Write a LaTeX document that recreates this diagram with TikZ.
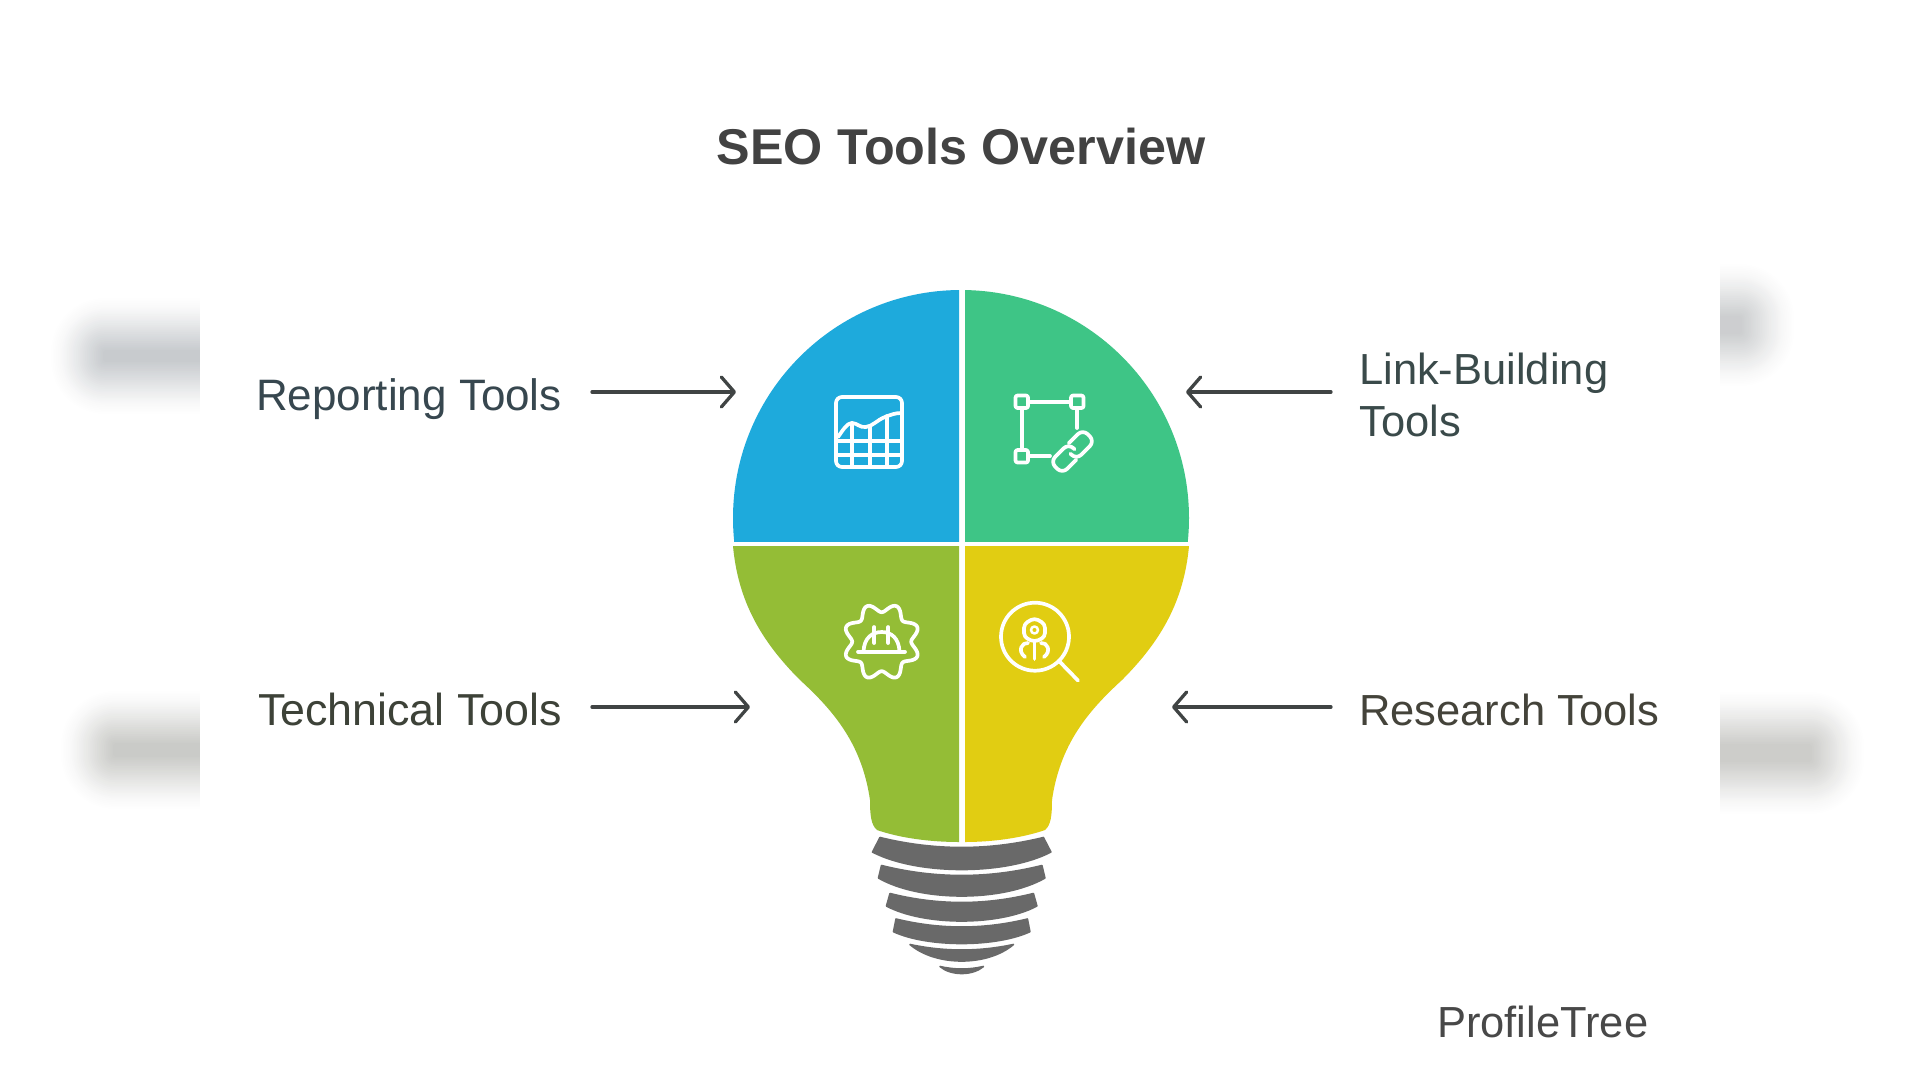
\documentclass[tikz,border=0pt]{standalone}
\usepackage{fontspec}
\setmainfont{Liberation Sans}
\usetikzlibrary{arrows.meta}
\definecolor{cblue}{HTML}{1EAADC}
\definecolor{cgreen}{HTML}{3EC586}
\definecolor{colive}{HTML}{94BD36}
\definecolor{cyellow}{HTML}{E1CD12}
\definecolor{cgray}{HTML}{696969}
\definecolor{carrow}{HTML}{404444}
\definecolor{trep}{HTML}{37474F}
\definecolor{tlink}{HTML}{3A4A4A}
\definecolor{ttech}{HTML}{3D4238}
\definecolor{tres}{HTML}{44433A}
\definecolor{ttitle}{HTML}{424242}
\definecolor{tbrand}{HTML}{484848}
\definecolor{bluea}{HTML}{C4C9CE}
\definecolor{blurb}{HTML}{C8C9C4}
\definecolor{bluric}{HTML}{CBCED0}
\definecolor{blurd}{HTML}{CCCCC8}
\tikzset{
  x=1pt,y=-1pt,
  lbl/.style={inner ysep=0pt,font=\fontsize{43.5}{52}\selectfont},
  arrowline/.style={draw=carrow,line width=3.3pt,line cap=round,-{Straight Barb[length=13pt,width=30pt,round]}},
  icon/.style={draw=white,line width=3.7pt,line cap=round,line join=round},
  ringshape/.style={fill=cgray,draw=cgray,line width=1.6pt,line join=round},
}
\newcommand{\blurpatch}[5]{%
  \foreach \i in {1,...,30}{%
    \pgfmathsetmacro{\off}{54*\i/30}
    \pgfmathsetmacro{\opa}{0.075*(1-\i/31)+0.003}
    \fill[#5,opacity=\opa,rounded corners=\off pt] (#1-\off,#2-\off) rectangle (#3+\off,#4+\off);
  }%
}
\begin{document}
\begin{tikzpicture}
\useasboundingbox (0,0) rectangle (1920,1080);
\fill[white] (0,0) rectangle (1920,1080);
% blurred remains at the sides
\blurpatch{105}{352}{240}{360}{bluea}
\blurpatch{115}{745}{240}{755}{blurb}
\blurpatch{1680}{318}{1740}{332}{bluric}
\blurpatch{1680}{746}{1810}{760}{blurd}
\fill[white] (200,0) rectangle (1720,1080);
% bulb
\begin{scope}
  \clip (700,280) rectangle (959,541);
  \fill[cblue] (961,518) circle[radius=228];
\end{scope}
\begin{scope}
  \clip (965,280) rectangle (1220,541);
  \fill[cgreen] (961,518) circle[radius=228];
\end{scope}
\fill[colive] (733,546) .. controls (738,600) and (760,640) .. (800,680)
  .. controls (835,712) and (862,745) .. (870,800)
  .. controls (870,815) and (871,825) .. (877,830)
  .. controls (900,838) and (930,842) .. (959,842) -- (959,546) -- cycle;
\fill[cyellow] (1189,546) .. controls (1184,600) and (1162,640) .. (1122,680)
  .. controls (1087,712) and (1060,745) .. (1052,800)
  .. controls (1052,815) and (1051,825) .. (1045,830)
  .. controls (1022,838) and (992,842) .. (965,842) -- (965,546) -- cycle;
% base rings: top-left x,y / top centre y / side x,y / bottom centre y
\foreach \tx/\ty/\tc/\sx/\sy/\bc in {
  880/837.5/847.5/872.5/852/869.5,
  881.5/865.5/875.5/878.5/878/896,
  890/893.5/902.5/886.5/906/921,
  896/919/927/893.5/931.7/943.5,
  910/944.5/950/910/944.5/961,
  940/966.5/969/940/966.5/973.5}{
  \pgfmathsetmacro{\rtx}{1923.4-\tx}
  \pgfmathsetmacro{\rsx}{1923.4-\sx}
  \pgfmathsetmacro{\tcy}{\ty+(\tc-\ty)*4/3}
  \pgfmathsetmacro{\bcy}{\sy+(\bc-\sy)*4/3}
  \pgfmathsetmacro{\tca}{\tx+(961.7-\tx)*2/3}
  \pgfmathsetmacro{\tcb}{\rtx-(\rtx-961.7)*2/3}
  \pgfmathsetmacro{\bca}{\rsx-(\rsx-961.7)*0.5}
  \pgfmathsetmacro{\bcb}{\sx+(961.7-\sx)*0.5}
  \path[ringshape] (\tx,\ty) .. controls (\tca,\tcy) and (\tcb,\tcy) .. (\rtx,\ty)
    -- (\rsx,\sy) .. controls (\bca,\bcy) and (\bcb,\bcy) .. (\sx,\sy) -- cycle;
}
% chart icon
\draw[icon,rounded corners=6pt] (836,397) rectangle (902,467);
\draw[icon] (838,437) .. controls (843,430) and (847,423) .. (852,423)
  .. controls (857,423) and (860,428) .. (866,427)
  .. controls (873,426) and (877,420) .. (885,417) .. controls (890,415) and (895,413) .. (901,413);
\draw[icon] (852,423) -- (852,467) (870,426) -- (870,467) (887,416) -- (887,467)
  (837,441) -- (901,441) (837,455) -- (901,455);
% link icon
\draw[icon,rounded corners=2pt] (1015.5,395.5) rectangle (1028,408) (1071,395.5) rectangle (1083.5,408) (1015.5,450) rectangle (1028,462.5);
\draw[icon] (1028,401.7) -- (1071,401.7) (1021.7,408) -- (1021.7,450) (1077,408) -- (1077,428) (1028,456) -- (1050,456);
\begin{scope}[shift={(1072.5,451.5)},rotate=45]
  \draw[icon,rounded corners=7pt] (-3,8.5) -- (-23,8.5) -- (-23,-8.5) -- (3,-8.5) -- (3,0);
  \draw[icon,rounded corners=7pt] (3,-8.5) -- (23,-8.5) -- (23,8.5) -- (-3,8.5) -- (-3,0);
\end{scope}
% gear icon
\draw[icon,shift={(881.7,641.7)}] plot[samples=145,domain=0:357.5,variable=\t] ({(34+4.5*cos(8*\t-180))*cos(\t)},{(34+4.5*cos(8*\t-180))*sin(\t)}) -- cycle;
\draw[icon] (858,651.7) -- (905,651.7);
\draw[icon] (863.5,651.7) .. controls (864,638) and (872,632) .. (881.7,632) .. controls (891,632) and (899,638) .. (899.5,651.7);
\draw[icon] (874.3,627) -- (874.3,643) (888.3,627) -- (888.3,643);
% research icon
\draw[icon] (1035,636.7) circle[radius=34];
\draw[icon] (1059,661) -- (1078,680.5);
\draw[icon,rounded corners=4pt] (1034.5,618) -- (1045,624) -- (1045,637) -- (1034.5,642) -- (1024,637) -- (1024,624) -- cycle;
\draw[icon,line width=2.5pt] (1034.5,630) circle[radius=3.5];
\draw[icon] (1034.5,642) -- (1034.5,659);
\draw[icon] (1028,643) .. controls (1022,642) and (1017,651) .. (1025,657);
\draw[icon] (1041,643) .. controls (1047,642) and (1052,651) .. (1044,657);
% texts
\node[lbl,font=\bfseries\fontsize{50.3}{56}\selectfont,text=ttitle,anchor=base,inner sep=0pt] (title) at (961,164) {SEO Tools Overview};
\node[lbl,font=\fontsize{44}{52}\selectfont,text=trep,anchor=base east,inner xsep=30pt] (rep) at (592,410) {Reporting Tools};
\node[lbl,font=\fontsize{44.8}{52}\selectfont,text=ttech,anchor=base east,inner xsep=30pt] (tech) at (592,725) {Technical Tools};
\node[lbl,text=tres,anchor=base west,inner xsep=28pt] (res) at (1331,725) {Research Tools};
\node[lbl,text=tlink,anchor=west,align=left,inner xsep=28pt] (link) at (1331,395) {Link-Building\\Tools};
\node[lbl,text=tbrand,anchor=base west,inner sep=0pt] (brand) at (1437,1037) {ProfileTree};
% arrows
\coordinate (tipa) at (736,392);
\coordinate (tipb) at (1186,392);
\coordinate (tipc) at (750,707);
\coordinate (tipd) at (1172,707);
\draw[arrowline] (rep.east |- tipa) -- (tipa);
\draw[arrowline] (link.west |- tipb) -- (tipb);
\draw[arrowline] (tech.east |- tipc) -- (tipc);
\draw[arrowline] (res.west |- tipd) -- (tipd);
\end{tikzpicture}
\end{document}
